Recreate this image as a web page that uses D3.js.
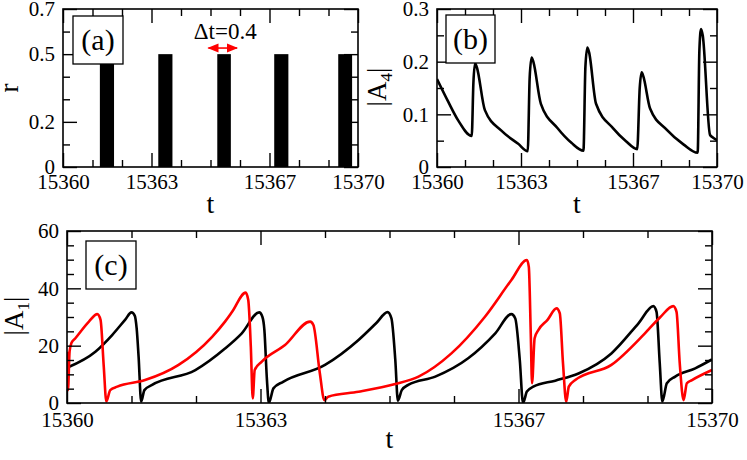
<!DOCTYPE html>
<html><head><meta charset="utf-8">
<script src="https://cdn.jsdelivr.net/npm/d3@7"></script>
<style>
body{margin:0;background:#fff}
svg{display:block}
svg text{font-family:"Liberation Serif",Tinos,"Times New Roman",Times,"DejaVu Serif",serif !important;fill:#000}
</style>
</head><body>
<svg id="chart" width="747" height="460"></svg>
<script>
// ---------- data ----------
const tMinorTicks = [15361, 15362, 15364, 15365, 15366, 15368, 15369];
const tMajorTicks = [15360, 15363, 15367, 15370];

const rMajorTicks = [0, 0.2, 0.5, 0.7];
const rMinorTicks = [0.1, 0.3, 0.4, 0.6];
const a4MajorTicks = [0, 0.1, 0.2, 0.3];
const a4MinorTicks = [0.05, 0.15, 0.25];
const a1MajorTicks = [0, 20, 40, 60];
const a1MinorTicks = [5, 10, 15, 25, 30, 35, 45, 50, 55];

// panel (a): pulses of r
const pulseStart = [15361.25, 15363.23, 15365.23, 15367.16, 15369.33];
const pulseEnd   = [15361.73, 15363.71, 15365.69, 15367.64, 15369.80];
const pulseValue = [0.5, 0.5, 0.5, 0.5, 0.5];

// panel (b): |A4|
const a4T = [15360.0, 15360.4, 15360.75, 15361.24, 15361.30, 15361.36, 15361.42, 15361.71,
             15362.3, 15362.9, 15363.24, 15363.31, 15363.38, 15363.44, 15363.71,
             15364.3, 15364.8, 15365.23, 15365.30, 15365.37, 15365.43, 15365.68,
             15366.3, 15366.75, 15367.15, 15367.24, 15367.31, 15367.37, 15367.61,
             15368.2, 15368.8, 15369.31, 15369.37, 15369.43, 15369.49, 15369.75, 15369.85, 15370.0];
const a4V = [0.167, 0.124, 0.089, 0.059, 0.16, 0.197, 0.19, 0.108,
             0.069, 0.044, 0.030, 0.17, 0.208, 0.20, 0.12,
             0.074, 0.046, 0.031, 0.19, 0.227, 0.218, 0.12,
             0.073, 0.049, 0.034, 0.15, 0.180, 0.172, 0.111,
             0.071, 0.043, 0.027, 0.22, 0.262, 0.25, 0.061, 0.056, 0.051];

// panel (c): |A1|, black and red
const blackT = [15360.0, 15360.44, 15360.70, 15360.90, 15361.0, 15361.05, 15361.08, 15361.11, 15361.15, 15361.20, 15361.32,
                15361.99, 15362.45, 15362.71, 15362.98, 15363.03, 15363.06, 15363.10, 15363.13, 15363.20, 15363.35,
                15364.0, 15364.52, 15364.80, 15364.97, 15365.03, 15365.09, 15365.13, 15365.19, 15365.29,
                15365.71, 15366.22, 15366.64, 15366.89, 15366.95, 15367.02, 15367.07, 15367.13, 15367.23,
                15367.57, 15367.93, 15368.44, 15368.86, 15369.09, 15369.14, 15369.19, 15369.23, 15369.30, 15369.43,
                15369.74, 15370.0];
const blackV = [12.3, 17.9, 23.7, 29.0, 31.6, 30.5, 26.0, 16.2, 0.5, 4.5, 6.3,
                11.5, 19.0, 24.3, 31.6, 30.0, 25.5, 8.0, 0.0, 5.1, 7.4,
                13.3, 22.0, 28.0, 31.7, 29.5, 15.0, 0.8, 4.5, 6.3,
                9.2, 15.6, 24.3, 31.0, 29.5, 15.0, 0.0, 4.0, 5.7,
                7.8, 10.3, 17.3, 27.8, 33.8, 31.8, 13.8, 0.5, 6.9, 9.2,
                12.1, 15.2];
const redT = [15360.0, 15360.015, 15360.04, 15360.07, 15360.13, 15360.34, 15360.47, 15360.52, 15360.57, 15360.61, 15360.67, 15360.78,
              15361.21, 15361.73, 15362.25, 15362.45, 15362.56, 15362.77, 15362.81, 15362.85, 15362.88, 15362.91, 15363.02,
              15363.38, 15363.77, 15363.82, 15363.92, 15363.99, 15364.05, 15364.52, 15365.09, 15365.45, 15365.96,
              15366.48, 15366.89, 15367.13, 15367.16, 15367.19, 15367.21, 15367.25, 15367.31, 15367.45, 15367.59,
              15367.64, 15367.69, 15367.74, 15367.78, 15367.88, 15368.44, 15368.96, 15369.20, 15369.40, 15369.45,
              15369.50, 15369.56, 15369.61, 15369.69, 15370.0];
const redV = [17.9, 4.5, 18.0, 21.0, 22.6, 28.4, 31.0, 29.0, 12.7, 0.5, 4.5, 5.7,
              8.0, 13.3, 23.1, 28.4, 31.8, 38.5, 35.9, 19.6, 1.6, 11.5, 14.4,
              20.2, 28.4, 27.2, 10.4, 1.0, 2.2, 3.9, 6.6, 9.2, 17.3,
              30.1, 42.9, 49.9, 47.5, 24.3, 6.9, 22.6, 25.5, 29.0, 33.0,
              31.3, 13.8, 0.5, 5.7, 8.0, 13.3, 24.3, 30.0, 33.8, 31.8,
              13.8, 1.0, 6.9, 8.0, 11.5];

// ---------- drawing ----------
const FONT = '"Liberation Serif", Tinos, "Times New Roman", Times, "DejaVu Serif", serif';
const svg = d3.select("#chart").attr("font-family", FONT);

function panel(box, xDom, yDom, yMajor, yMinor, yFmt, tickPad) {
  const x = d3.scaleLinear().domain(xDom).range([box.x0, box.x1]);
  const y = d3.scaleLinear().domain(yDom).range([box.y1, box.y0]);
  const g = svg.append("g");
  const dataG = g.append("g");
  const axG = g.append("g");
  const MAJ = -14, MIN = -7;
  axG.append("g").attr("transform", `translate(0,${box.y1})`)
    .call(d3.axisBottom(x).tickValues(tMinorTicks).tickSize(MIN).tickFormat(""));
  axG.append("g").attr("transform", `translate(0,${box.y1})`)
    .call(d3.axisBottom(x).tickValues(tMajorTicks).tickSize(MAJ).tickPadding(tickPad).tickFormat(d3.format("d")));
  axG.append("g").attr("transform", `translate(0,${box.y0})`)
    .call(d3.axisTop(x).tickValues(tMinorTicks).tickSize(MIN).tickFormat(""));
  axG.append("g").attr("transform", `translate(0,${box.y0})`)
    .call(d3.axisTop(x).tickValues(tMajorTicks).tickSize(MAJ).tickFormat(""));
  axG.append("g").attr("transform", `translate(${box.x0},0)`)
    .call(d3.axisLeft(y).tickValues(yMinor).tickSize(MIN).tickFormat(""));
  axG.append("g").attr("transform", `translate(${box.x0},0)`)
    .call(d3.axisLeft(y).tickValues(yMajor).tickSize(MAJ).tickPadding(8).tickFormat(yFmt));
  axG.append("g").attr("transform", `translate(${box.x1},0)`)
    .call(d3.axisRight(y).tickValues(yMinor).tickSize(MIN).tickFormat(""));
  axG.append("g").attr("transform", `translate(${box.x1},0)`)
    .call(d3.axisRight(y).tickValues(yMajor).tickSize(MAJ).tickFormat(""));
  axG.selectAll(".domain").remove();
  axG.selectAll("g").attr("font-family", FONT);
  axG.selectAll(".tick line").attr("stroke", "#000").attr("stroke-width", 1.4);
  axG.selectAll(".tick text").attr("font-size", 21).attr("font-family", FONT).attr("fill", "#000");
  axG.append("rect").attr("x", box.x0).attr("y", box.y0)
    .attr("width", box.x1 - box.x0).attr("height", box.y1 - box.y0)
    .attr("fill", "none").attr("stroke", "#000").attr("stroke-width", 1.6);
  const clipId = "clip" + Math.round(box.x0) + "_" + Math.round(box.y0);
  svg.append("clipPath").attr("id", clipId).append("rect")
    .attr("x", box.x0).attr("y", box.y0).attr("width", box.x1 - box.x0).attr("height", box.y1 - box.y0);
  dataG.attr("clip-path", `url(#${clipId})`);
  return {x, y, g, dataG, axG};
}

function labelBox(g, bx, by, bw, bh, txt) {
  g.append("rect").attr("x", bx).attr("y", by).attr("width", bw).attr("height", bh)
    .attr("fill", "#fff").attr("stroke", "#000").attr("stroke-width", 1.3);
  g.append("text").attr("x", bx + bw / 2).attr("y", by + bh / 2 + 10)
    .attr("text-anchor", "middle").attr("font-size", 30).text(txt);
}

function yTitle(xb, yc, main, sub) {
  const t = svg.append("text").attr("transform", `translate(${xb},${yc}) rotate(-90)`)
    .attr("text-anchor", "middle").attr("font-size", 27);
  if (sub === undefined) { t.text(main); return; }
  t.append("tspan").text(main);
  t.append("tspan").attr("font-size", 17).attr("dy", 6).text(sub);
  t.append("tspan").attr("dy", -6).text("|");
}
function xTitle(xc, yb) {
  svg.append("text").attr("x", xc).attr("y", yb).attr("text-anchor", "middle")
    .attr("font-size", 28).text("t");
}

const fmt1 = d => (d === 0 ? "0" : d3.format(".1f")(d));

// (a)
const pa = panel({x0: 63, x1: 358, y0: 9, y1: 167}, [15360, 15370], [0, 0.7], rMajorTicks, rMinorTicks, fmt1, 7);
pa.dataG.selectAll("rect.bar").data(pulseStart.map((s, i) => ({s, e: pulseEnd[i], v: pulseValue[i]})))
  .join("rect").attr("class", "bar")
  .attr("x", d => pa.x(d.s)).attr("width", d => pa.x(d.e) - pa.x(d.s))
  .attr("y", d => pa.y(d.v)).attr("height", d => pa.y(0) - pa.y(d.v))
  .attr("fill", "#000");
labelBox(pa.axG, 73, 16, 50, 48, "(a)");
svg.append("defs").html(
  '<marker id="ah" viewBox="0 0 10 10" refX="9" refY="5" markerWidth="7" markerHeight="7" orient="auto-start-reverse">' +
  '<path d="M0,1 L10,5 L0,9 Z" fill="#ff0000"/></marker>');
pa.axG.append("line").attr("x1", pa.x(15364.93)).attr("x2", pa.x(15365.9))
  .attr("y1", pa.y(0.527)).attr("y2", pa.y(0.527))
  .attr("stroke", "#ff0000").attr("stroke-width", 1.6)
  .attr("marker-start", "url(#ah)").attr("marker-end", "url(#ah)");
pa.axG.append("text").attr("x", pa.x(15365.5)).attr("y", pa.y(0.565))
  .attr("text-anchor", "middle").attr("font-size", 23).text("\u0394t=0.4");
yTitle(18, 88, "r");
xTitle(210.5, 213);

// (b)
const pb = panel({x0: 437, x1: 717, y0: 9, y1: 167}, [15360, 15370], [0, 0.3], a4MajorTicks, a4MinorTicks, fmt1, 7);
pb.dataG.append("path").datum(a4T.map((t, i) => [t, a4V[i]]))
  .attr("fill", "none").attr("stroke", "#000").attr("stroke-width", 2.6).attr("stroke-linejoin", "round")
  .attr("d", d3.line().x(d => pb.x(d[0])).y(d => pb.y(d[1])).curve(d3.curveMonotoneX));
labelBox(pb.axG, 446, 15, 49, 48, "(b)");
yTitle(386, 87, "|A", "4");
xTitle(577, 213);

// (c)
const pc = panel({x0: 67, x1: 712, y0: 231, y1: 403}, [15360, 15370], [0, 60], a1MajorTicks, a1MinorTicks, d3.format("d"), 9);
const lineC = d3.line().x(d => pc.x(d[0])).y(d => pc.y(d[1])).curve(d3.curveMonotoneX);
pc.dataG.append("path").datum(blackT.map((t, i) => [t, blackV[i]]))
  .attr("fill", "none").attr("stroke", "#000").attr("stroke-width", 2.6).attr("stroke-linejoin", "round").attr("d", lineC);
pc.dataG.append("path").datum(redT.map((t, i) => [t, redV[i]]))
  .attr("fill", "none").attr("stroke", "#ff0000").attr("stroke-width", 2.6).attr("stroke-linejoin", "round").attr("d", lineC);
labelBox(pc.axG, 86, 241, 50, 48, "(c)");
yTitle(23, 316, "|A", "1");
xTitle(389.5, 448);
</script>
</body></html>
